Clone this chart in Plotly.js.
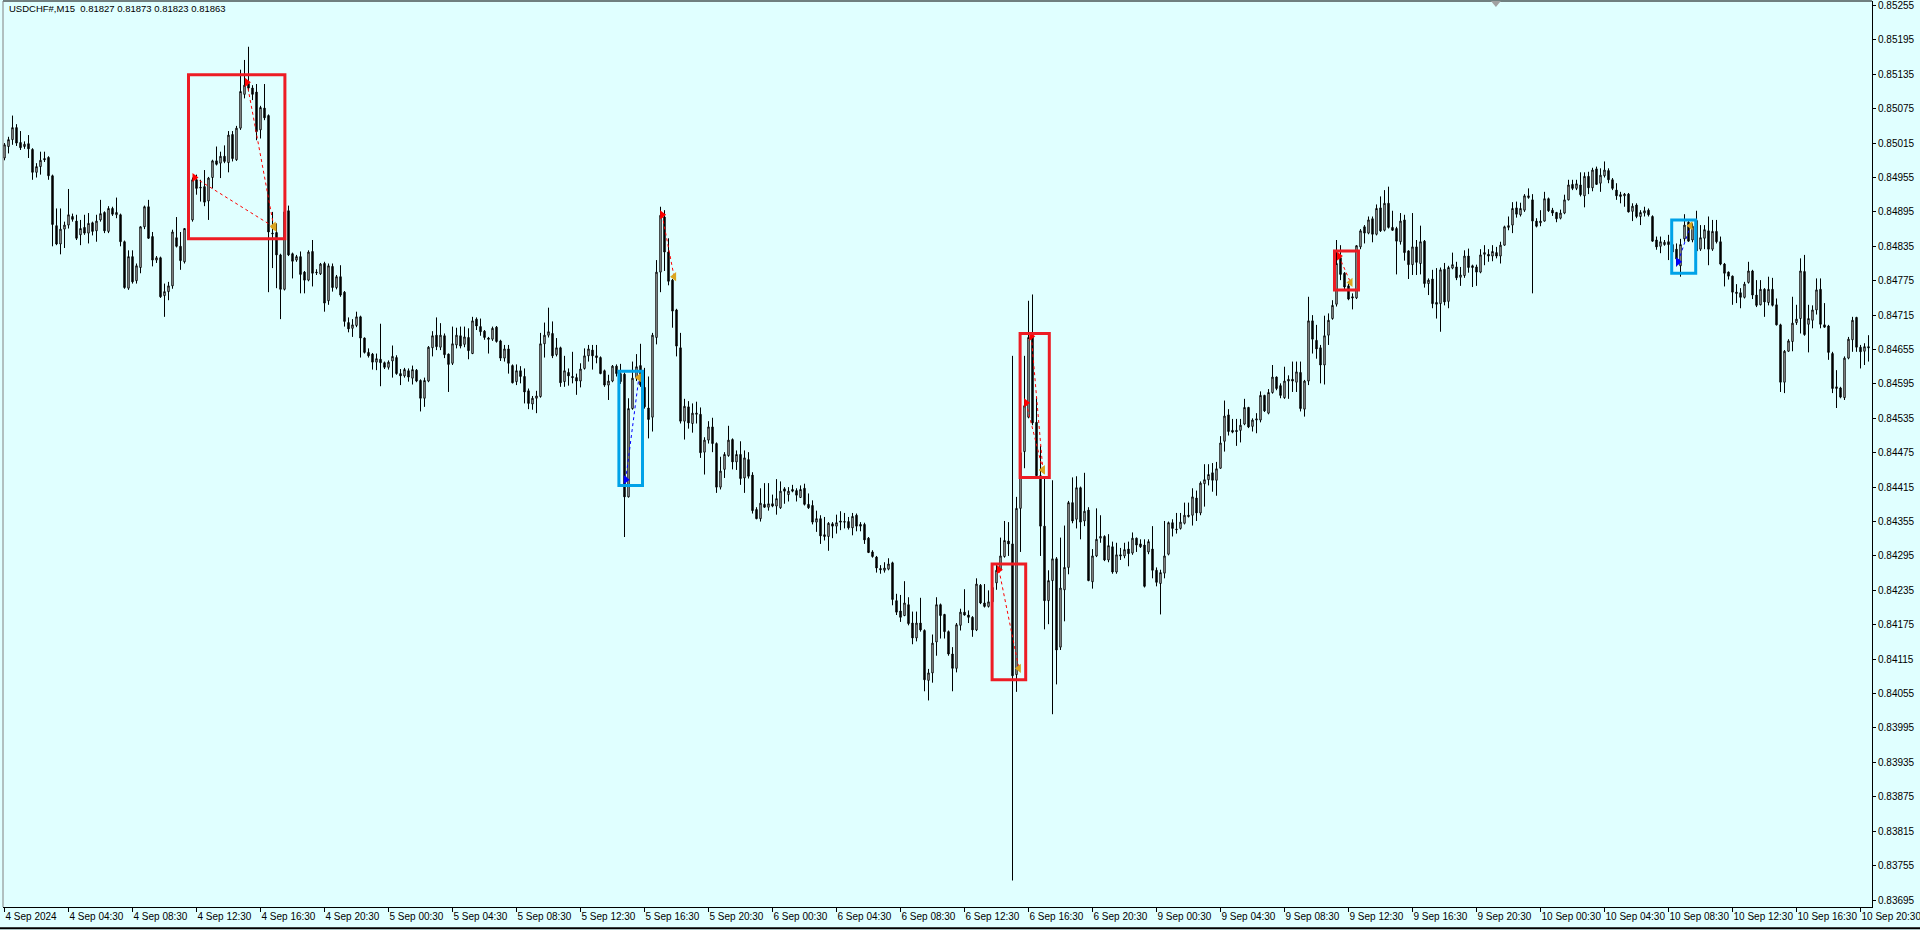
<!DOCTYPE html>
<html><head><meta charset="utf-8">
<script src="https://cdn.plot.ly/plotly-3.0.1.min.js"></script>
<style>html,body{margin:0;padding:0;background:#E0FFFF;overflow:hidden}#chart{width:1920px;height:930px}</style>
</head><body><div id="chart"></div>
<script>
// ---- header ----
const symbolLabel = 'USDCHF#,M15';
const lastQuote = ['0.81827', '0.81873', '0.81823', '0.81863'];

// ---- M15 candles (bar index 1 = 4 Sep 2024 00:15, weekend removed) ----
const firstBar = 1;
const open = [
0.84975,0.84989,0.85009,0.85021,0.85042,0.85016,0.85009,0.85014,0.85004,0.84964,0.84974,0.84988,
0.84990,0.84958,0.84871,0.84839,0.84865,0.84872,0.84887,0.84879,0.84855,0.84868,0.84858,0.84876,
0.84862,0.84881,0.84894,0.84861,0.84901,0.84890,0.84890,0.84843,0.84762,0.84817,0.84775,0.84798,
0.84869,0.84904,0.84852,0.84811,0.84815,0.84749,0.84756,0.84766,0.84850,0.84835,0.84808,0.84866,
0.84881,0.84951,0.84938,0.84939,0.84914,0.84955,0.84984,0.84980,0.84992,0.84981,0.85030,0.84986,
0.85041,0.85100,0.85119,0.85111,0.85104,0.85038,0.85076,0.85063,0.84858,0.84859,0.84820,0.84760,
0.84897,0.84822,0.84811,0.84817,0.84790,0.84776,0.84826,0.84790,0.84787,0.84805,0.84740,0.84800,
0.84763,0.84782,0.84755,0.84702,0.84692,0.84697,0.84712,0.84675,0.84650,0.84647,0.84633,0.84638,
0.84632,0.84624,0.84635,0.84641,0.84613,0.84609,0.84618,0.84605,0.84619,0.84601,0.84570,0.84600,
0.84658,0.84680,0.84659,0.84679,0.84647,0.84631,0.84663,0.84679,0.84664,0.84676,0.84648,0.84708,
0.84695,0.84687,0.84675,0.84673,0.84694,0.84670,0.84640,0.84656,0.84627,0.84599,0.84618,0.84608,
0.84583,0.84560,0.84570,0.84573,0.84665,0.84680,0.84683,0.84646,0.84658,0.84599,0.84615,0.84608,
0.84606,0.84600,0.84622,0.84644,0.84654,0.84644,0.84641,0.84618,0.84593,0.84600,0.84626,0.84613,
0.84612,0.84398,0.84552,0.84605,0.84627,0.84589,0.84553,0.84537,0.84676,0.84790,0.84886,0.84825,
0.84776,0.84724,0.84658,0.84530,0.84555,0.84526,0.84542,0.84542,0.84476,0.84497,0.84520,0.84491,
0.84415,0.84446,0.84470,0.84498,0.84459,0.84472,0.84431,0.84463,0.84436,0.84376,0.84360,0.84385,
0.84380,0.84386,0.84382,0.84379,0.84412,0.84402,0.84411,0.84409,0.84397,0.84413,0.84385,0.84383,
0.84354,0.84360,0.84332,0.84329,0.84351,0.84347,0.84356,0.84355,0.84355,0.84344,0.84366,0.84350,
0.84350,0.84326,0.84302,0.84293,0.84273,0.84270,0.84272,0.84283,0.84217,0.84199,0.84191,0.84210,
0.84178,0.84152,0.84178,0.84165,0.84078,0.84091,0.84145,0.84210,0.84193,0.84163,0.84124,0.84099,
0.84174,0.84197,0.84192,0.84188,0.84166,0.84244,0.84213,0.84207,0.84215,0.84248,0.84272,0.84294,
0.84321,0.84316,0.84088,0.84378,0.84477,0.84537,0.84678,0.84528,0.84435,0.84347,0.84217,0.84252,
0.84290,0.84136,0.84236,0.84275,0.84388,0.84359,0.84414,0.84356,0.84375,0.84250,0.84295,0.84326,
0.84329,0.84288,0.84311,0.84267,0.84297,0.84295,0.84307,0.84300,0.84326,0.84316,0.84314,0.84302,
0.84307,0.84270,0.84247,0.84265,0.84298,0.84353,0.84342,0.84343,0.84352,0.84366,0.84366,0.84396,
0.84370,0.84421,0.84428,0.84440,0.84427,0.84448,0.84495,0.84541,0.84514,0.84514,0.84514,0.84525,
0.84554,0.84521,0.84532,0.84532,0.84575,0.84544,0.84580,0.84607,0.84592,0.84571,0.84600,0.84603,
0.84598,0.84615,0.84551,0.84600,0.84705,0.84671,0.84658,0.84628,0.84680,0.84709,0.84734,0.84815,
0.84788,0.84766,0.84747,0.84745,0.84834,0.84869,0.84858,0.84883,0.84856,0.84902,0.84863,0.84910,
0.84868,0.84866,0.84843,0.84881,0.84827,0.84803,0.84834,0.84805,0.84844,0.84770,0.84778,0.84737,
0.84735,0.84795,0.84739,0.84797,0.84799,0.84781,0.84784,0.84818,0.84801,0.84799,0.84790,0.84821,
0.84821,0.84818,0.84824,0.84818,0.84837,0.84868,0.84872,0.84902,0.84890,0.84898,0.84920,0.84916,
0.84879,0.84876,0.84879,0.84918,0.84898,0.84894,0.84884,0.84893,0.84916,0.84943,0.84936,0.84942,
0.84923,0.84957,0.84937,0.84970,0.84945,0.84958,0.84967,0.84951,0.84933,0.84925,0.84923,0.84926,
0.84896,0.84907,0.84887,0.84893,0.84898,0.84887,0.84846,0.84835,0.84838,0.84843,0.84838,0.84830,
0.84801,0.84848,0.84877,0.84846,0.84880,0.84830,0.84849,0.84862,0.84830,0.84861,0.84843,0.84804,
0.84790,0.84783,0.84755,0.84754,0.84746,0.84772,0.84792,0.84750,0.84733,0.84760,0.84737,0.84760,
0.84733,0.84698,0.84598,0.84652,0.84669,0.84702,0.84709,0.84791,0.84699,0.84706,0.84724,0.84760,
0.84698,0.84696,0.84648,0.84587,0.84588,0.84571,0.84640,0.84672,0.84711,0.84659,0.84652,0.84660
];
const high = [
0.84995,0.85015,0.85026,0.85063,0.85048,0.85036,0.85018,0.85029,0.85006,0.84980,0.85000,0.85000,
0.84992,0.84960,0.84901,0.84901,0.84878,0.84935,0.84892,0.84890,0.84881,0.84890,0.84893,0.84878,
0.84890,0.84916,0.84896,0.84905,0.84904,0.84920,0.84892,0.84845,0.84828,0.84828,0.84805,0.84870,
0.84906,0.84916,0.84860,0.84818,0.84817,0.84770,0.84773,0.84864,0.84886,0.84860,0.84866,0.84890,
0.84955,0.84960,0.84951,0.84968,0.84956,0.84986,0.85009,0.85000,0.85011,0.85036,0.85036,0.85045,
0.85143,0.85160,0.85183,0.85116,0.85118,0.85080,0.85118,0.85065,0.84895,0.84875,0.84822,0.84897,
0.84906,0.84824,0.84820,0.84826,0.84792,0.84828,0.84846,0.84795,0.84806,0.84808,0.84805,0.84805,
0.84785,0.84802,0.84757,0.84711,0.84708,0.84721,0.84714,0.84676,0.84657,0.84649,0.84648,0.84700,
0.84634,0.84636,0.84662,0.84645,0.84621,0.84623,0.84622,0.84627,0.84621,0.84603,0.84606,0.84661,
0.84687,0.84711,0.84701,0.84683,0.84648,0.84695,0.84693,0.84695,0.84695,0.84692,0.84712,0.84711,
0.84709,0.84689,0.84677,0.84695,0.84696,0.84672,0.84663,0.84663,0.84629,0.84629,0.84626,0.84622,
0.84587,0.84574,0.84583,0.84684,0.84702,0.84728,0.84704,0.84675,0.84660,0.84644,0.84622,0.84651,
0.84613,0.84631,0.84657,0.84663,0.84663,0.84663,0.84643,0.84620,0.84611,0.84628,0.84629,0.84630,
0.84615,0.84570,0.84634,0.84647,0.84665,0.84623,0.84608,0.84684,0.84811,0.84904,0.84898,0.84849,
0.84778,0.84726,0.84684,0.84569,0.84565,0.84561,0.84564,0.84554,0.84502,0.84530,0.84536,0.84493,
0.84468,0.84476,0.84522,0.84500,0.84479,0.84495,0.84479,0.84476,0.84441,0.84380,0.84413,0.84422,
0.84422,0.84402,0.84429,0.84425,0.84415,0.84415,0.84419,0.84413,0.84418,0.84421,0.84404,0.84392,
0.84374,0.84366,0.84363,0.84354,0.84354,0.84367,0.84373,0.84370,0.84363,0.84370,0.84369,0.84354,
0.84353,0.84328,0.84305,0.84295,0.84279,0.84284,0.84291,0.84285,0.84229,0.84227,0.84251,0.84223,
0.84198,0.84198,0.84222,0.84167,0.84098,0.84158,0.84223,0.84212,0.84194,0.84165,0.84136,0.84178,
0.84203,0.84237,0.84200,0.84190,0.84256,0.84246,0.84246,0.84235,0.84245,0.84280,0.84327,0.84356,
0.84354,0.84644,0.84398,0.84490,0.84644,0.84740,0.84751,0.84573,0.84487,0.84430,0.84270,0.84427,
0.84293,0.84327,0.84348,0.84391,0.84432,0.84434,0.84416,0.84440,0.84380,0.84307,0.84378,0.84366,
0.84331,0.84333,0.84320,0.84318,0.84309,0.84318,0.84320,0.84336,0.84327,0.84324,0.84324,0.84324,
0.84347,0.84275,0.84271,0.84356,0.84355,0.84359,0.84370,0.84370,0.84388,0.84388,0.84413,0.84409,
0.84425,0.84455,0.84455,0.84457,0.84459,0.84504,0.84566,0.84551,0.84534,0.84534,0.84534,0.84569,
0.84555,0.84535,0.84544,0.84582,0.84576,0.84586,0.84628,0.84608,0.84596,0.84625,0.84610,0.84634,
0.84634,0.84634,0.84602,0.84747,0.84715,0.84698,0.84663,0.84714,0.84718,0.84741,0.84846,0.84837,
0.84790,0.84770,0.84753,0.84837,0.84865,0.84872,0.84887,0.84887,0.84908,0.84922,0.84933,0.84939,
0.84897,0.84869,0.84893,0.84890,0.84828,0.84893,0.84846,0.84871,0.84846,0.84779,0.84794,0.84797,
0.84798,0.84806,0.84801,0.84824,0.84808,0.84799,0.84828,0.84831,0.84803,0.84803,0.84830,0.84837,
0.84830,0.84837,0.84834,0.84843,0.84871,0.84887,0.84912,0.84913,0.84911,0.84926,0.84936,0.84926,
0.84884,0.84898,0.84930,0.84920,0.84902,0.84895,0.84899,0.84925,0.84951,0.84951,0.84951,0.84964,
0.84964,0.84965,0.84972,0.84974,0.84971,0.84983,0.84971,0.84954,0.84945,0.84930,0.84928,0.84928,
0.84910,0.84910,0.84898,0.84904,0.84901,0.84889,0.84852,0.84852,0.84846,0.84855,0.84842,0.84840,
0.84848,0.84891,0.84879,0.84875,0.84897,0.84872,0.84872,0.84887,0.84881,0.84881,0.84852,0.84806,
0.84791,0.84784,0.84769,0.84762,0.84773,0.84808,0.84794,0.84776,0.84776,0.84762,0.84782,0.84780,
0.84744,0.84700,0.84654,0.84673,0.84747,0.84733,0.84814,0.84820,0.84733,0.84732,0.84779,0.84779,
0.84736,0.84698,0.84651,0.84619,0.84590,0.84643,0.84677,0.84712,0.84712,0.84663,0.84666,0.84680
];
const low = [
0.84970,0.84985,0.84997,0.85012,0.85010,0.85003,0.85005,0.84989,0.84951,0.84955,0.84960,0.84982,
0.84951,0.84835,0.84837,0.84821,0.84832,0.84866,0.84878,0.84846,0.84837,0.84855,0.84840,0.84854,
0.84843,0.84878,0.84858,0.84858,0.84888,0.84884,0.84835,0.84761,0.84759,0.84770,0.84770,0.84788,
0.84865,0.84848,0.84800,0.84806,0.84745,0.84712,0.84741,0.84761,0.84833,0.84794,0.84805,0.84860,
0.84878,0.84925,0.84913,0.84905,0.84881,0.84936,0.84976,0.84954,0.84980,0.84964,0.84983,0.84984,
0.85038,0.85093,0.85105,0.85090,0.85020,0.85023,0.85055,0.84755,0.84797,0.84762,0.84708,0.84758,
0.84818,0.84779,0.84808,0.84753,0.84753,0.84774,0.84765,0.84785,0.84785,0.84721,0.84733,0.84756,
0.84760,0.84747,0.84695,0.84685,0.84677,0.84694,0.84641,0.84648,0.84641,0.84620,0.84619,0.84591,
0.84621,0.84620,0.84606,0.84611,0.84593,0.84606,0.84599,0.84594,0.84598,0.84547,0.84555,0.84598,
0.84643,0.84654,0.84654,0.84640,0.84581,0.84628,0.84657,0.84657,0.84659,0.84638,0.84647,0.84689,
0.84679,0.84672,0.84648,0.84670,0.84667,0.84635,0.84634,0.84613,0.84596,0.84593,0.84596,0.84561,
0.84551,0.84550,0.84544,0.84571,0.84641,0.84676,0.84640,0.84643,0.84590,0.84590,0.84592,0.84596,
0.84576,0.84589,0.84620,0.84634,0.84620,0.84631,0.84612,0.84590,0.84567,0.84598,0.84608,0.84595,
0.84328,0.84397,0.84550,0.84600,0.84590,0.84552,0.84500,0.84512,0.84664,0.84755,0.84792,0.84767,
0.84693,0.84643,0.84526,0.84498,0.84517,0.84510,0.84526,0.84466,0.84437,0.84491,0.84476,0.84405,
0.84411,0.84431,0.84468,0.84446,0.84445,0.84419,0.84405,0.84430,0.84369,0.84359,0.84355,0.84379,
0.84374,0.84380,0.84367,0.84377,0.84386,0.84390,0.84406,0.84390,0.84396,0.84383,0.84377,0.84350,
0.84337,0.84316,0.84322,0.84304,0.84326,0.84334,0.84340,0.84343,0.84341,0.84331,0.84338,0.84338,
0.84316,0.84300,0.84292,0.84266,0.84264,0.84266,0.84270,0.84209,0.84192,0.84180,0.84190,0.84174,
0.84141,0.84146,0.84163,0.84059,0.84043,0.84074,0.84121,0.84151,0.84151,0.84121,0.84059,0.84092,
0.84165,0.84191,0.84178,0.84154,0.84164,0.84211,0.84205,0.84205,0.84210,0.84236,0.84270,0.84292,
0.84295,0.83729,0.84058,0.84302,0.84448,0.84535,0.84523,0.84430,0.84295,0.84167,0.84176,0.84019,
0.84071,0.84131,0.84181,0.84263,0.84352,0.84343,0.84324,0.84347,0.84251,0.84238,0.84293,0.84318,
0.84286,0.84284,0.84264,0.84264,0.84288,0.84291,0.84277,0.84297,0.84302,0.84309,0.84240,0.84298,
0.84256,0.84242,0.84193,0.84256,0.84296,0.84329,0.84334,0.84341,0.84350,0.84362,0.84348,0.84356,
0.84366,0.84381,0.84418,0.84407,0.84400,0.84447,0.84477,0.84505,0.84509,0.84487,0.84493,0.84523,
0.84518,0.84512,0.84509,0.84528,0.84546,0.84542,0.84578,0.84584,0.84570,0.84569,0.84569,0.84581,
0.84581,0.84547,0.84538,0.84593,0.84648,0.84639,0.84596,0.84594,0.84663,0.84707,0.84730,0.84776,
0.84760,0.84741,0.84725,0.84743,0.84830,0.84840,0.84856,0.84842,0.84854,0.84860,0.84861,0.84866,
0.84862,0.84786,0.84838,0.84810,0.84778,0.84785,0.84785,0.84786,0.84763,0.84750,0.84727,0.84709,
0.84686,0.84732,0.84727,0.84795,0.84776,0.84766,0.84780,0.84789,0.84764,0.84766,0.84788,0.84802,
0.84808,0.84809,0.84814,0.84805,0.84836,0.84863,0.84858,0.84885,0.84887,0.84895,0.84918,0.84753,
0.84868,0.84870,0.84878,0.84895,0.84888,0.84877,0.84882,0.84891,0.84915,0.84933,0.84933,0.84922,
0.84903,0.84926,0.84931,0.84942,0.84930,0.84955,0.84945,0.84933,0.84916,0.84910,0.84904,0.84894,
0.84879,0.84884,0.84872,0.84887,0.84887,0.84843,0.84829,0.84823,0.84836,0.84811,0.84820,0.84800,
0.84782,0.84843,0.84843,0.84842,0.84826,0.84827,0.84830,0.84802,0.84827,0.84840,0.84802,0.84765,
0.84777,0.84733,0.84736,0.84727,0.84744,0.84770,0.84743,0.84729,0.84732,0.84712,0.84732,0.84730,
0.84697,0.84581,0.84579,0.84651,0.84652,0.84698,0.84683,0.84679,0.84650,0.84692,0.84716,0.84692,
0.84693,0.84637,0.84579,0.84553,0.84570,0.84567,0.84638,0.84651,0.84651,0.84622,0.84628,0.84634
];
const close = [
0.84989,0.85012,0.85021,0.85042,0.85015,0.85007,0.85013,0.85005,0.84964,0.84974,0.84985,0.84986,
0.84958,0.84873,0.84839,0.84865,0.84872,0.84890,0.84882,0.84849,0.84866,0.84858,0.84875,0.84861,
0.84879,0.84892,0.84862,0.84901,0.84891,0.84894,0.84843,0.84763,0.84817,0.84773,0.84801,0.84869,
0.84904,0.84849,0.84811,0.84815,0.84747,0.84756,0.84766,0.84860,0.84835,0.84810,0.84866,0.84875,
0.84951,0.84936,0.84937,0.84912,0.84954,0.84984,0.84978,0.84992,0.84983,0.85029,0.84988,0.85041,
0.85105,0.85116,0.85111,0.85100,0.85035,0.85077,0.85059,0.84860,0.84857,0.84820,0.84760,0.84895,
0.84820,0.84809,0.84817,0.84786,0.84776,0.84825,0.84788,0.84789,0.84804,0.84736,0.84801,0.84763,
0.84782,0.84750,0.84704,0.84691,0.84698,0.84712,0.84675,0.84650,0.84644,0.84633,0.84639,0.84632,
0.84624,0.84633,0.84643,0.84613,0.84609,0.84620,0.84607,0.84620,0.84600,0.84570,0.84601,0.84659,
0.84679,0.84660,0.84680,0.84646,0.84629,0.84665,0.84680,0.84661,0.84677,0.84653,0.84705,0.84696,
0.84686,0.84676,0.84673,0.84692,0.84669,0.84640,0.84656,0.84631,0.84597,0.84618,0.84608,0.84581,
0.84561,0.84570,0.84574,0.84665,0.84680,0.84686,0.84644,0.84658,0.84597,0.84618,0.84609,0.84606,
0.84600,0.84621,0.84644,0.84656,0.84644,0.84641,0.84613,0.84593,0.84600,0.84626,0.84613,0.84599,
0.84398,0.84552,0.84605,0.84625,0.84593,0.84555,0.84533,0.84680,0.84790,0.84889,0.84825,0.84774,
0.84722,0.84661,0.84530,0.84556,0.84527,0.84544,0.84544,0.84475,0.84497,0.84520,0.84491,0.84415,
0.84443,0.84472,0.84497,0.84459,0.84472,0.84430,0.84466,0.84434,0.84374,0.84360,0.84387,0.84380,
0.84386,0.84382,0.84395,0.84408,0.84408,0.84408,0.84408,0.84401,0.84411,0.84385,0.84379,0.84354,
0.84360,0.84330,0.84329,0.84352,0.84347,0.84353,0.84354,0.84354,0.84344,0.84364,0.84347,0.84347,
0.84323,0.84301,0.84294,0.84274,0.84271,0.84274,0.84281,0.84219,0.84197,0.84188,0.84213,0.84177,
0.84152,0.84178,0.84166,0.84079,0.84091,0.84143,0.84210,0.84191,0.84163,0.84124,0.84099,0.84175,
0.84197,0.84192,0.84188,0.84166,0.84246,0.84213,0.84207,0.84215,0.84240,0.84270,0.84295,0.84322,
0.84316,0.84086,0.84378,0.84475,0.84557,0.84676,0.84527,0.84435,0.84347,0.84217,0.84252,0.84290,
0.84131,0.84239,0.84275,0.84388,0.84356,0.84414,0.84354,0.84373,0.84252,0.84295,0.84324,0.84329,
0.84288,0.84313,0.84267,0.84297,0.84295,0.84306,0.84299,0.84326,0.84314,0.84311,0.84242,0.84320,
0.84270,0.84249,0.84266,0.84295,0.84353,0.84343,0.84341,0.84354,0.84366,0.84364,0.84398,0.84370,
0.84422,0.84428,0.84437,0.84427,0.84447,0.84492,0.84539,0.84512,0.84511,0.84512,0.84523,0.84554,
0.84520,0.84532,0.84534,0.84575,0.84548,0.84580,0.84607,0.84587,0.84575,0.84600,0.84603,0.84600,
0.84616,0.84552,0.84600,0.84705,0.84673,0.84656,0.84628,0.84679,0.84706,0.84732,0.84805,0.84786,
0.84764,0.84743,0.84745,0.84836,0.84862,0.84858,0.84881,0.84856,0.84901,0.84862,0.84910,0.84868,
0.84863,0.84844,0.84879,0.84824,0.84803,0.84834,0.84807,0.84843,0.84770,0.84776,0.84735,0.84734,
0.84794,0.84738,0.84798,0.84803,0.84780,0.84785,0.84818,0.84798,0.84798,0.84790,0.84820,0.84824,
0.84818,0.84826,0.84818,0.84837,0.84869,0.84871,0.84901,0.84891,0.84901,0.84923,0.84923,0.84879,
0.84870,0.84879,0.84918,0.84897,0.84893,0.84883,0.84893,0.84916,0.84942,0.84936,0.84944,0.84925,
0.84957,0.84937,0.84968,0.84943,0.84959,0.84968,0.84951,0.84936,0.84923,0.84922,0.84926,0.84895,
0.84905,0.84887,0.84894,0.84897,0.84890,0.84844,0.84834,0.84843,0.84842,0.84838,0.84825,0.84813,
0.84838,0.84872,0.84844,0.84870,0.84827,0.84850,0.84864,0.84830,0.84861,0.84843,0.84804,0.84788,
0.84783,0.84755,0.84753,0.84746,0.84769,0.84792,0.84750,0.84732,0.84760,0.84738,0.84760,0.84732,
0.84698,0.84598,0.84652,0.84670,0.84701,0.84708,0.84792,0.84681,0.84709,0.84724,0.84759,0.84699,
0.84694,0.84650,0.84587,0.84590,0.84572,0.84640,0.84673,0.84706,0.84659,0.84651,0.84660,0.84658
];

// ---- time scale labels (bar index of each label) ----
const timeTickBars = [2,18,34,50,66,82,98,114,130,146,162,178,194,210,226,242,258,274,290,306,322,338,354,370,386,402,418,434,450,466];
const timeTickLabels = ['4 Sep 2024','4 Sep 04:30','4 Sep 08:30','4 Sep 12:30','4 Sep 16:30','4 Sep 20:30',
 '5 Sep 00:30','5 Sep 04:30','5 Sep 08:30','5 Sep 12:30','5 Sep 16:30','5 Sep 20:30',
 '6 Sep 00:30','6 Sep 04:30','6 Sep 08:30','6 Sep 12:30','6 Sep 16:30','6 Sep 20:30',
 '9 Sep 00:30','9 Sep 04:30','9 Sep 08:30','9 Sep 12:30','9 Sep 16:30','9 Sep 20:30',
 '10 Sep 00:30','10 Sep 04:30','10 Sep 08:30','10 Sep 12:30','10 Sep 16:30','10 Sep 20:30'];
// ---- price scale labels ----
const priceTicks = [0.83695,0.83755,0.83815,0.83875,0.83935,0.83995,0.84055,0.84115,0.84175,0.84235,
 0.84295,0.84355,0.84415,0.84475,0.84535,0.84595,0.84655,0.84715,0.84775,0.84835,0.84895,0.84955,
 0.85015,0.85075,0.85135,0.85195,0.85255];

// ---- trade history (entry arrows, exit marks, connecting lines) ----
const tradeSide  = ['sell','sell','sell','buy','sell','sell','sell','sell','buy'];
const entryBar   = [49.5, 62.6, 166.4, 157.3, 250.6, 257.4, 258.7, 335.6, 420.4];
const entryPrice = [0.84955,0.85121,0.84890,0.84428,0.84271,0.84562,0.84678,0.84818,0.84808];
const exitBar    = [69.5, 69.3, 169.4, 160.6, 255.6, 261.6, 261.6, 338.5, 423.5];
const exitPrice  = [0.84868,0.84870,0.84782,0.84606,0.84099,0.84445,0.84445,0.84772,0.84871];

// ---- hand-drawn highlight boxes ----
const boxBarFrom = [48.0, 155.6, 248.9, 255.9, 334.5, 418.8];
const boxBarTo   = [72.1, 161.5, 257.3, 263.2, 340.5, 424.8];
const boxLow     = [0.84848,0.84418,0.84079,0.84432,0.84759,0.84788];
const boxHigh    = [0.85134,0.84617,0.84281,0.84683,0.84827,0.84881];
const boxKind    = ['red','blue','red','red','red','blue'];

// ---- build ----
const FONT = 'Liberation Sans, Arial, sans-serif';
const bars = open.map((_, k) => firstBar + k);
const sideColor = {sell: '#FF0000', buy: '#0000FF'};
const boxColors = {red: '#ED1C24', blue: '#00A2E8'};

const traces = [{
  type: 'candlestick', x: bars, open: open, high: high, low: low, close: close,
  increasing: {line: {color: '#000000', width: 1}, fillcolor: '#FFFFFF'},
  decreasing: {line: {color: '#000000', width: 1}, fillcolor: '#000000'},
  whiskerwidth: 0, hoverinfo: 'skip', showlegend: false
}];

['sell', 'buy'].forEach(side => {
  const lx = [], ly = [], ex = [], ey = [];
  tradeSide.forEach((s, k) => {
    if (s !== side) return;
    lx.push(entryBar[k], exitBar[k], null);
    ly.push(entryPrice[k], exitPrice[k], null);
    ex.push(entryBar[k]); ey.push(entryPrice[k]);
  });
  traces.push({type: 'scatter', mode: 'lines', x: lx, y: ly, hoverinfo: 'skip', showlegend: false,
    line: {color: sideColor[side], width: 1, dash: '3px,3px'}});
  traces.push({type: 'scatter', mode: 'markers', x: ex, y: ey, hoverinfo: 'skip', showlegend: false,
    marker: {symbol: 'triangle-right', size: 8, color: sideColor[side]}});
});
traces.push({type: 'scatter', mode: 'markers', x: exitBar, y: exitPrice, hoverinfo: 'skip', showlegend: false,
  marker: {symbol: 'triangle-left', size: 8, color: '#DAA520'}});

const shapes = boxBarFrom.map((b, k) => ({
  type: 'rect', xref: 'x', yref: 'y', x0: b, x1: boxBarTo[k], y0: boxLow[k], y1: boxHigh[k],
  line: {color: boxColors[boxKind[k]], width: 3}, fillcolor: 'rgba(0,0,0,0)', layer: 'above'
}));
// frame lines of the chart window
shapes.push({type: 'line', xref: 'paper', yref: 'paper', x0: 0, x1: 1, y0: 1, y1: 1, line: {color: '#000000', width: 1}});
shapes.push({type: 'line', xref: 'paper', yref: 'paper', x0: 0, x1: 0, y0: 0, y1: 1, line: {color: '#808080', width: 1}});
shapes.push({type: 'line', xref: 'paper', yref: 'paper', x0: -0.002, x1: 1.03, y0: -0.0235, y1: -0.0235, line: {color: '#000000', width: 2}});
// chart-shift marker at the top
shapes.push({type: 'path', xref: 'x', yref: 'paper', path: 'M 373.6 1 L 376.1 1 L 374.85 0.9935 Z',
  fillcolor: '#A0A0A0', line: {width: 0}});

const layout = {
  width: 1920, height: 930,
  margin: {l: 3, r: 48, t: 1, b: 23, pad: 0},
  paper_bgcolor: '#E0FFFF', plot_bgcolor: '#E0FFFF',
  showlegend: false, hovermode: false,
  boxgap: 0.5,
  title: {text: symbolLabel + '\u00a0\u00a0' + lastQuote.join(' '), xref: 'container', yref: 'container',
    x: 9 / 1920, xanchor: 'left', y: 1 - 9 / 930, yanchor: 'middle',
    font: {family: FONT, size: 9.5, color: '#000000'}},
  xaxis: {
    range: [1.625, 468.875], fixedrange: true,
    tickmode: 'array', tickvals: timeTickBars, ticktext: timeTickLabels,
    tickangle: 0, automargin: false,
    ticks: 'outside', ticklen: 4, tickcolor: '#000000', tickwidth: 1,
    ticklabelposition: 'outside right', ticklabeloverflow: 'allow',
    tickfont: {family: FONT, size: 10, color: '#000000'},
    showgrid: false, zeroline: false, showline: true, linecolor: '#000000', linewidth: 1,
    rangeslider: {visible: false}
  },
  yaxis: {
    side: 'right', range: [0.836828, 0.852628], fixedrange: true, automargin: false,
    tickmode: 'array', tickvals: priceTicks, ticktext: priceTicks.map(v => v.toFixed(5)),
    ticks: 'outside', ticklen: 3, tickcolor: '#000000', tickwidth: 1, ticklabeloverflow: 'allow',
    tickfont: {family: FONT, size: 10, color: '#000000'},
    showgrid: false, zeroline: false, showline: true, linecolor: '#000000', linewidth: 1
  },
  shapes: shapes
};

Plotly.newPlot('chart', traces, layout, {staticPlot: true, displayModeBar: false});
</script>
</body></html>
